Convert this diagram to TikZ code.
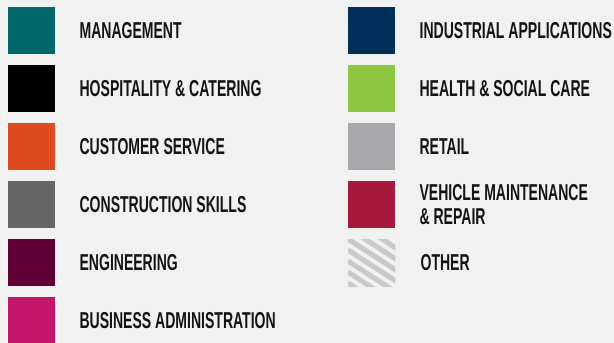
\documentclass[tikz,border=0pt]{standalone}
\usepackage{fontspec}
\setmainfont[FakeStretch=0.61]{Liberation Sans}
\usetikzlibrary{positioning}
\definecolor{legendbg}{RGB}{241,241,241}
\definecolor{mgmtteal}{RGB}{0,104,107}
\definecolor{custorange}{RGB}{220,74,30}
\definecolor{constgray}{RGB}{102,102,104}
\definecolor{engpurple}{RGB}{95,0,55}
\definecolor{busmagenta}{RGB}{196,22,106}
\definecolor{indnavy}{RGB}{0,48,90}
\definecolor{healthgreen}{RGB}{141,198,63}
\definecolor{retailgray}{RGB}{167,168,171}
\definecolor{vehcrimson}{RGB}{165,25,60}
\definecolor{stripegray}{RGB}{200,201,203}

\tikzset{
  swatch/.style={minimum size=47pt,inner sep=0pt,anchor=north west,fill=#1},
  sector/.style={right=24pt of #1,inner sep=0pt,align=left,text=black!92,
    font=\fontsize{23}{24.5}\selectfont\bfseries}
}

\begin{document}
\begin{tikzpicture}[x=1pt,y=-1pt]
  \fill[legendbg] (0,0) rectangle (614,343);
  \useasboundingbox (0,0) rectangle (614,343);
  % left column
  \node[swatch=mgmtteal] (mgmtbox) at (8,7) {};
  \node[swatch=black] (hospbox) at (8,65) {};
  \node[swatch=custorange] (custbox) at (8,123) {};
  \node[swatch=constgray] (constbox) at (8,181) {};
  \node[swatch=engpurple] (engbox) at (8,239) {};
  \node[swatch=busmagenta] (busbox) at (8,297) {};
  \node[sector=mgmtbox] (mgmt) {MANAGEMENT};
  \node[sector=hospbox] (hosp) {HOSPITALITY \& CATERING};
  \node[sector=custbox] (cust) {CUSTOMER SERVICE};
  \node[sector=constbox] (const) {CONSTRUCTION SKILLS};
  \node[sector=engbox] (eng) {ENGINEERING};
  \node[sector=busbox] (bus) {BUSINESS ADMINISTRATION};
  % right column
  \node[swatch=indnavy] (indbox) at (348,7) {};
  \node[swatch=healthgreen] (healthbox) at (348,65) {};
  \node[swatch=retailgray] (retailbox) at (348,123) {};
  \node[swatch=vehcrimson] (vehbox) at (348,181) {};
  \node[swatch=legendbg] (otherbox) at (348,239) {};
  \begin{scope}
    \clip (otherbox.north west) rectangle (otherbox.south east);
    \foreach \o in {-66,-55,...,44}
      \draw[stripegray,line width=5pt] (348,239+\o) -- ++(60,39);
  \end{scope}
  \node[sector=indbox] (ind) {INDUSTRIAL APPLICATIONS};
  \node[sector=healthbox] (health) {HEALTH \& SOCIAL CARE};
  \node[sector=retailbox] (retail) {RETAIL};
  \node[sector=vehbox] (veh) {VEHICLE MAINTENANCE\\\& REPAIR};
  \node[sector=otherbox,xshift=1pt] (other) {OTHER};
\end{tikzpicture}
\end{document}
